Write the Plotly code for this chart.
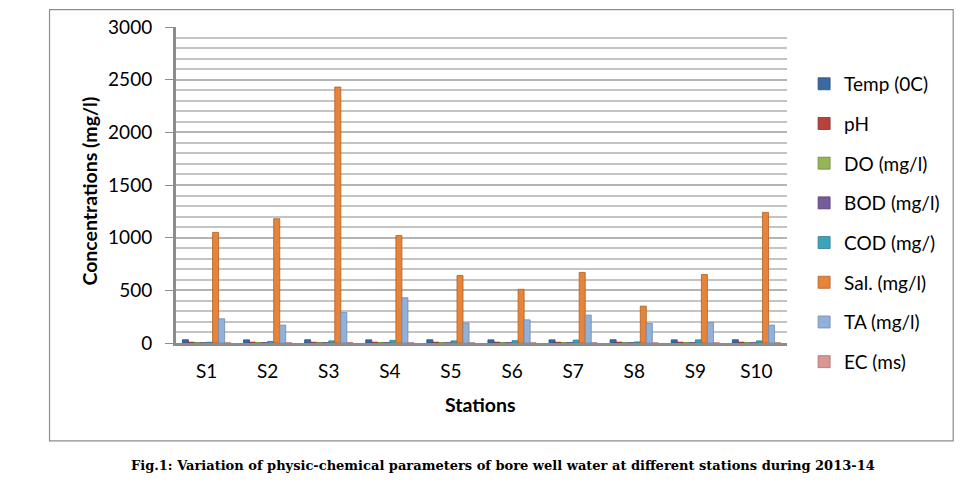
"""Bore well water parameters by station, 2013-14 (grouped bar chart)."""

import plotly.graph_objects as go

stations = ["S1", "S2", "S3", "S4", "S5", "S6", "S7", "S8", "S9", "S10"]

temp = [31, 30, 31, 30, 31, 30, 30, 31, 30, 31]
ph = [7.4, 7.6, 7.2, 7.5, 7.3, 7.8, 7.1, 7.6, 7.4, 7.5]
do = [5.2, 4.8, 5.6, 4.9, 5.1, 4.6, 5.3, 5.0, 4.7, 5.4]
bod = [2.5, 3.1, 2.8, 3.4, 2.2, 2.9, 3.3, 2.6, 3.0, 2.4]
cod = [8, 15, 20, 25, 20, 22, 28, 10, 30, 20]
sal = [1050, 1180, 2430, 1020, 640, 510, 670, 350, 650, 1240]
ta = [230, 170, 290, 430, 190, 220, 265, 185, 195, 170]
ec = [1.6, 1.4, 2.8, 1.5, 1.1, 0.9, 1.2, 0.7, 1.1, 1.9]

series = [
    ("Temp (0C)", temp, "#3A69A3", "#2A4F80"),
    ("pH", ph, "#B9413E", "#8C2D2B"),
    ("DO (mg/l)", do, "#93B555", "#6F8A3C"),
    ("BOD (mg/l)", bod, "#775C9C", "#574275"),
    ("COD (mg/)", cod, "#3FA2BC", "#2B7C90"),
    ("Sal. (mg/l)", sal, "#E5843A", "#B35F22"),
    ("TA (mg/l)", ta, "#93B1D8", "#6F8CB5"),
    ("EC (ms)", ec, "#D99694", "#B06E6C"),
]

font_family = "Lato, 'Open Sans', sans-serif"

fig = go.Figure()
for i, (name, values, fill, edge) in enumerate(series):
    fig.add_trace(
        go.Bar(
            x=stations,
            y=values,
            name=name,
            legendgroup=f"g{i}",
            marker={"color": fill, "line": {"color": edge, "width": 0.8}},
        )
    )

# chart border, axis titles and caption
fig.add_shape(
    type="rect",
    xref="paper",
    yref="paper",
    x0=-0.207,
    x1=1.272,
    y0=-0.31,
    y1=1.055,
    line={"color": "#8C8C8C", "width": 1.2},
    layer="below",
)
fig.add_annotation(
    text="<b>Concentrations (mg/l)</b>",
    xref="paper",
    yref="paper",
    x=-0.142,
    y=0.48,
    xanchor="center",
    yanchor="middle",
    textangle=-90,
    showarrow=False,
    font={"size": 19.5, "color": "#000000", "family": font_family},
)
fig.add_annotation(
    text="<b>Stations</b>",
    xref="paper",
    yref="paper",
    x=0.499,
    y=-0.196,
    xanchor="center",
    yanchor="middle",
    showarrow=False,
    font={"size": 19.5, "color": "#000000", "family": font_family},
)
fig.add_annotation(
    text="<b>Fig.1: Variation of physic-chemical parameters of bore well water "
    "at different stations during 2013-14</b>",
    xref="paper",
    yref="paper",
    x=0.535,
    y=-0.389,
    xanchor="center",
    yanchor="middle",
    showarrow=False,
    font={"size": 13, "color": "#000000", "family": "'DejaVu Serif', serif"},
)

fig.update_layout(
    width=955,
    height=479,
    margin={"l": 168, "r": 176, "t": 19, "b": 144, "autoexpand": False},
    paper_bgcolor="white",
    plot_bgcolor="white",
    barmode="group",
    bargap=0.21,
    bargroupgap=0,
    font={"family": font_family, "size": 19, "color": "#000000"},
    legend={
        "x": 1.028,
        "y": 0.88,
        "xanchor": "left",
        "yanchor": "top",
        "font": {"size": 19},
        "itemwidth": 30,
        "tracegroupgap": 12,
        "bgcolor": "rgba(0,0,0,0)",
    },
    showlegend=True,
)
fig.update_xaxes(
    showline=True,
    linecolor="#8C8C8C",
    linewidth=3,
    showgrid=False,
    ticks="",
    ticklabelstandoff=9,
    tickfont={"size": 19},
)
fig.update_yaxes(
    range=[0, 3000],
    tick0=0,
    dtick=500,
    showline=True,
    linecolor="#8C8C8C",
    linewidth=3,
    ticks="outside",
    ticklen=8,
    tickcolor="#8C8C8C",
    tickwidth=1,
    ticklabelstandoff=9,
    tickfont={"size": 19},
    showgrid=True,
    gridcolor="#B4B4B4",
    gridwidth=1.5,
    minor={"dtick": 100, "showgrid": True, "gridcolor": "#C4C4C4", "gridwidth": 1.5},
    zeroline=False,
)

fig.write_html("out.html")
